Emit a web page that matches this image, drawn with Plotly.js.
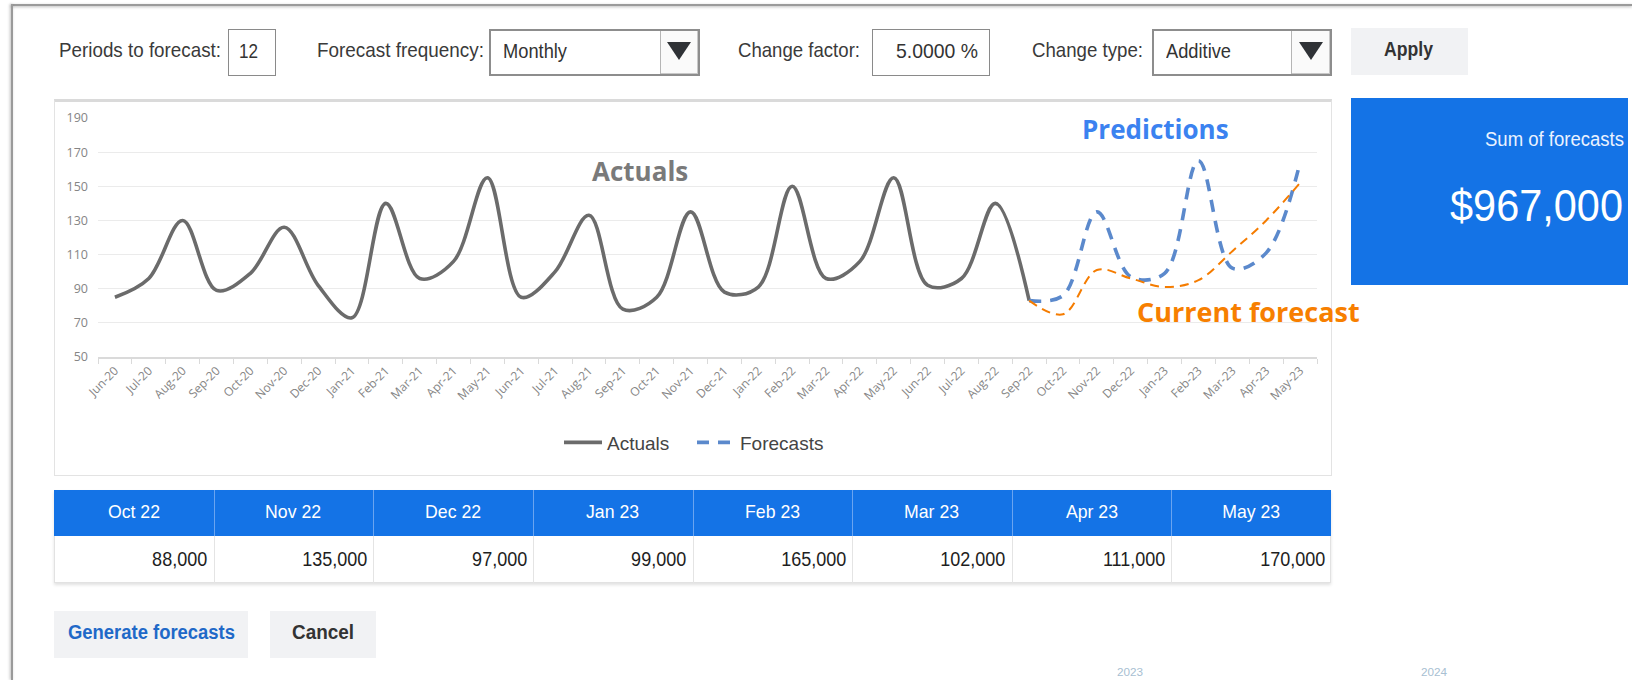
<!DOCTYPE html>
<html>
<head>
<meta charset="utf-8">
<script src="https://cdn.plot.ly/plotly-3.0.1.min.js"></script>
<style>
html,body{margin:0;padding:0;width:1632px;height:680px;overflow:hidden;background:#fff;font-family:"Liberation Sans",Arial,sans-serif;}
#ui{position:absolute;left:0;top:0;width:1632px;height:680px;z-index:1;}
#chart{position:absolute;left:0;top:0;width:1632px;height:680px;z-index:2;pointer-events:none;}
.a{position:absolute;box-sizing:border-box;}
.tri{position:absolute;width:0;height:0;border-left:12px solid transparent;border-right:12px solid transparent;border-top:18px solid #2f3236;}
.cell{position:absolute;box-sizing:border-box;overflow:visible;}
.cell span{display:inline-block;white-space:nowrap;}
</style>
</head>
<body>
<div id="ui"></div>
<div id="chart"></div>
<script>
// ---------------- data ----------------
const months = ['Jun-20','Jul-20','Aug-20','Sep-20','Oct-20','Nov-20','Dec-20','Jan-21','Feb-21','Mar-21','Apr-21','May-21',
  'Jun-21','Jul-21','Aug-21','Sep-21','Oct-21','Nov-21','Dec-21','Jan-22','Feb-22','Mar-22','Apr-22','May-22',
  'Jun-22','Jul-22','Aug-22','Sep-22','Oct-22','Nov-22','Dec-22','Jan-23','Feb-23','Mar-23','Apr-23','May-23'];
const actuals = [85, 96, 130, 89, 99, 126, 92, 73, 140, 96, 106, 155,
  85, 100, 133, 78, 85, 135, 88, 91, 150, 96, 106, 155,
  92, 96, 140, 83];
const forecastMonths = ['Sep-22','Oct-22','Nov-22','Dec-22','Jan-23','Feb-23','Mar-23','Apr-23','May-23'];
const forecasts = [83, 86, 135, 97, 99, 165, 102, 111, 164];
const currentForecast = [83, 75, 101, 96, 91, 95, 112, 130, 152];
const tableMonths = ['Oct 22','Nov 22','Dec 22','Jan 23','Feb 23','Mar 23','Apr 23','May 23'];
const tableValues = [88000, 135000, 97000, 99000, 165000, 102000, 111000, 170000];
const yTicks = [50, 70, 90, 110, 130, 150, 170, 190];
const yearLabels = ['2023', '2024'];

// ---------------- UI (form, panel, table, buttons) ----------------
const ui = document.getElementById('ui');
function box(x, y, w, h, css){ const d=document.createElement('div'); d.className='a';
  d.style.cssText += `left:${x}px;top:${y}px;width:${w}px;height:${h}px;`+(css||''); ui.appendChild(d); return d; }
function txt(s, x, w, cy, size, css){ const el=document.createElement('span'); el.textContent=s;
  el.style.cssText=`position:absolute;left:${x}px;top:${cy-0.49*size}px;font-size:${size}px;line-height:${size}px;white-space:nowrap;transform-origin:0 0;color:#333;`+(css||'');
  ui.appendChild(el); const nw=el.getBoundingClientRect().width; if(w) el.style.transform=`scaleX(${w/nw})`; return el; }

// page frame
box(11, 4, 1621, 2, 'background:#9a9a9a;box-shadow:0 1px 3px rgba(0,0,0,0.3);');
box(11, 4, 2, 676, 'background:#9a9a9a;box-shadow:-1px 0 3px rgba(0,0,0,0.3);');

// row of controls
txt('Periods to forecast:', 59, 162, 49, 21, 'color:#3a3a3a;');
box(228, 29, 48, 47, 'border:1px solid #8a8a8a;background:#fff;');
txt('12', 239, 19, 50, 21);
txt('Forecast frequency:', 317, 167, 49, 21, 'color:#3a3a3a;');
box(489, 29, 211, 47, 'border:2px solid #8d8d8d;background:#fff;');
box(660, 31, 38, 43, 'border-left:1px solid #b5b5b5;background:#fafafa;box-shadow:inset -1px -1px 0 #c8c8c8;');
(function(){const t=document.createElement('div');t.className='tri';t.style.left='667px';t.style.top='42px';ui.appendChild(t);})();
txt('Monthly', 503, 64, 50, 21);
txt('Change factor:', 738, 122, 49, 21, 'color:#3a3a3a;');
box(872, 29, 118, 47, 'border:1px solid #8a8a8a;background:#fff;');
txt('5.0000 %', 896, 82, 50, 21);
txt('Change type:', 1032, 111, 49, 21, 'color:#3a3a3a;');
box(1152, 29, 180, 47, 'border:2px solid #8d8d8d;background:#fff;');
box(1291, 31, 39, 43, 'border-left:1px solid #b5b5b5;background:#fafafa;box-shadow:inset -1px -1px 0 #c8c8c8;');
(function(){const t=document.createElement('div');t.className='tri';t.style.left='1299px';t.style.top='42px';ui.appendChild(t);})();
txt('Additive', 1166, 65, 50, 21);
box(1351, 28, 117, 47, 'background:#f1f2f4;');
txt('Apply', 1384, 49, 48, 21, 'font-weight:bold;color:#333;');

// chart frame
box(54, 99, 1278, 377, 'border:1px solid #e3e3e3;border-top:3px solid #dadada;background:#fff;');

// sum panel
box(1351, 98, 277, 187, 'background:#1473e6;');
const sumTotal = tableValues.reduce((a,b)=>a+b,0);
txt('Sum of forecasts', 1485, 139, 140, 19.5, 'color:#eaf2ff;');
txt('$' + sumTotal.toLocaleString('en-US'), 1450, 173, 206, 44, 'color:#ffffff;');

// table
const tX=54, tW=1277, colW=tW/tableMonths.length;
box(tX, 490, tW, 93, 'box-shadow:0 2px 3px rgba(0,0,0,0.12);background:#fff;border:1px solid #e2e2e2;');
box(tX, 490, tW, 46, 'background:#1473e6;');
tableMonths.forEach((m,i)=>{
  const x = tX + i*colW;
  if(i>0){ box(x, 490, 1, 46, 'background:#6aa4f0;'); box(x, 536, 1, 47, 'background:#e4e4e4;'); }
  const h=document.createElement('div'); h.className='cell';
  h.style.cssText+=`left:${x}px;top:489px;width:${colW}px;height:46px;line-height:46px;text-align:center;color:#fff;font-size:19px;`;
  h.innerHTML=`<span style="transform:scaleX(0.93);transform-origin:50% 50%;">${m}</span>`; ui.appendChild(h);
  const v=document.createElement('div'); v.className='cell';
  v.style.cssText+=`left:${x}px;top:536px;width:${colW-6}px;height:47px;line-height:47px;text-align:right;color:#1e1e1e;font-size:20px;`;
  v.innerHTML=`<span style="transform:scaleX(0.9);transform-origin:100% 50%;">${tableValues[i].toLocaleString('en-US')}</span>`; ui.appendChild(v);
});

// buttons
box(54, 611, 194, 47, 'background:#f1f2f4;');
txt('Generate forecasts', 68, 167, 632, 20, 'font-weight:bold;color:#1f69c8;');
box(270, 611, 106, 47, 'background:#f1f2f4;');
txt('Cancel', 292, 62, 632, 20, 'font-weight:bold;color:#333;');

// faint year labels at the bottom edge
txt(yearLabels[0], 1117, 26, 673, 10, 'color:#a8c0d2;');
txt(yearLabels[1], 1421, 26, 673, 10, 'color:#a8c0d2;');

// ---------------- Plotly chart ----------------
const W=1632, H=680, L=98, R=1317, T=118.3, B=356.7;
const px = x => (x - L) / (R - L);
const py = y => (B - y) / (B - T);

const traces = [
  { x: months.slice(0, actuals.length), y: actuals, type:'scatter', mode:'lines', name:'Actuals',
    line:{color:'#6b6b6b', width:3.6, shape:'spline', smoothing:1}, hoverinfo:'skip' },
  { x: forecastMonths, y: forecasts, type:'scatter', mode:'lines', name:'Forecasts',
    line:{color:'#5b89cc', width:3.6, dash:'12px,9px', shape:'spline', smoothing:1}, hoverinfo:'skip' },
  { x: forecastMonths, y: currentForecast, type:'scatter', mode:'lines', name:'Current forecast', showlegend:false,
    line:{color:'#f57c00', width:2, dash:'9px,6px', shape:'spline', smoothing:1}, hoverinfo:'skip' }
];

const layout = {
  width:W, height:H,
  margin:{l:L, r:W-R, t:T, b:H-B, pad:0},
  paper_bgcolor:'rgba(0,0,0,0)', plot_bgcolor:'rgba(0,0,0,0)',
  xaxis:{type:'category', categoryorder:'array', categoryarray:months, range:[-0.5, months.length-0.5],
    tickangle:-45, tickfont:{family:'Open Sans', size:12, color:'#858585'},
    showgrid:false, zeroline:false, showline:true, linecolor:'#dadada', linewidth:2,
    ticks:'outside', tickson:'boundaries', ticklen:5, tickcolor:'#dadada', tickwidth:1, fixedrange:true},
  yaxis:{range:[50,190], tickmode:'array', tickvals:yTicks, ticktext:yTicks.map(String),
    showgrid:true, gridcolor:'#ebebeb', gridwidth:1, zeroline:false, showline:false,
    tickfont:{family:'Open Sans', size:12.5, color:'#858585'}, ticklabelstandoff:9, fixedrange:true},
  showlegend:true,
  legend:{orientation:'h', x:px(559), y:py(442), xanchor:'left', yanchor:'middle',
    font:{family:'Liberation Sans', size:19, color:'#444'}, bgcolor:'rgba(0,0,0,0)',
    itemwidth:38, entrywidth:80, entrywidthmode:'pixels'},
  annotations:[
    {xref:'paper', yref:'paper', x:px(640), y:py(171), text:'<b>Actuals</b>', showarrow:false,
      xanchor:'center', yanchor:'middle', font:{family:'Open Sans', size:26, color:'#7a7a7a'}},
    {xref:'paper', yref:'paper', x:px(1155.5), y:py(129), text:'<b>Predictions</b>', showarrow:false,
      xanchor:'center', yanchor:'middle', font:{family:'Open Sans', size:26, color:'#3b82f0'}},
    {xref:'paper', yref:'paper', x:px(1248), y:py(311), text:'<b>Current forecast</b>', showarrow:false,
      xanchor:'center', yanchor:'middle', font:{family:'Open Sans', size:27, color:'#f77f00'}}
  ]
};

Plotly.newPlot('chart', traces, layout, {staticPlot:true, displayModeBar:false});
</script>
</body>
</html>
